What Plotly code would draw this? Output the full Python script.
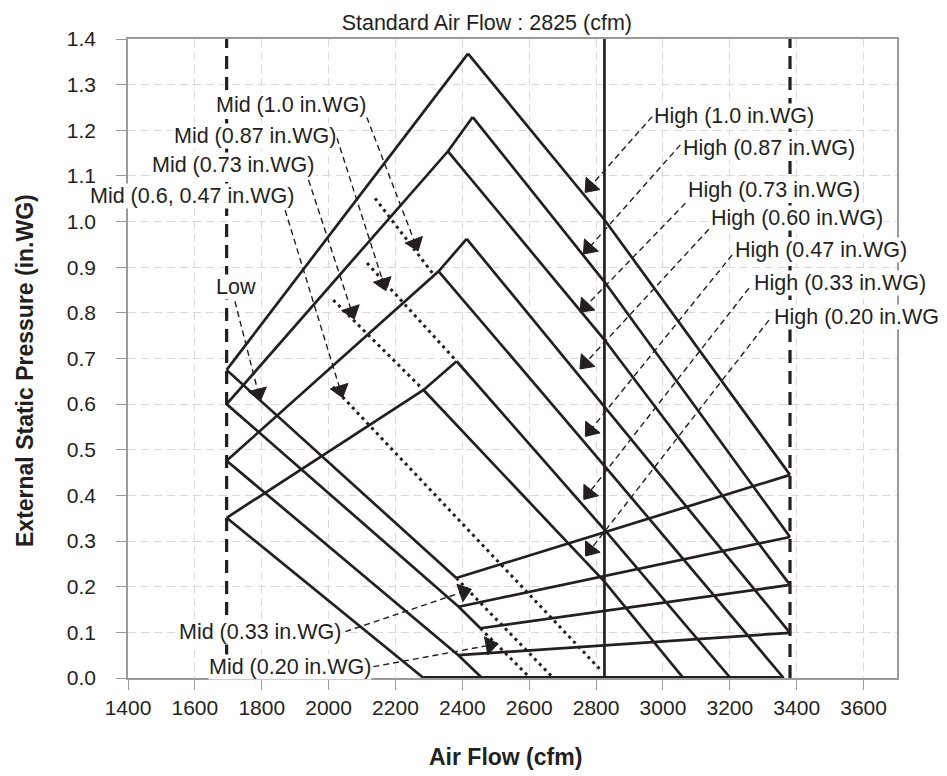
import plotly.graph_objects as go

# ---------------- data (cfm, in.WG) ----------------
low_limit_cfm = 1695
high_limit_cfm = 3380
standard_cfm = 2825
y_top = 1.4

# ascending curves from the low limit up to the peaks (branch points included)
asc_1_x = [1695, 2417];        asc_1_y = [0.675, 1.368]
asc_2_x = [1695, 2357, 2431];  asc_2_y = [0.600, 1.154, 1.229]
asc_3_x = [1695, 2329, 2413];  asc_3_y = [0.476, 0.891, 0.962]
asc_4_x = [1695, 2284, 2383];  asc_4_y = [0.351, 0.631, 0.694]

# High fan curves (peak -> standard flow -> end)
high_100_x = [2417, 2825, 3380]; high_100_y = [1.368, 1.004, 0.445]
high_087_x = [2431, 2825, 3380]; high_087_y = [1.229, 0.868, 0.309]
high_073_x = [2357, 2825, 3380]; high_073_y = [1.154, 0.741, 0.204]
high_060_x = [2413, 2825, 3380]; high_060_y = [0.962, 0.594, 0.099]
high_047_x = [2329, 2825, 3361]; high_047_y = [0.891, 0.465, 0.0]
high_033_x = [2383, 2825, 3202]; high_033_y = [0.694, 0.325, 0.0]
high_020_x = [2284, 2825, 3061]; high_020_y = [0.631, 0.211, 0.0]

# descending curves from the low limit
desc_1_x = [1695, 2382];        desc_1_y = [0.675, 0.219]
desc_2_x = [1695, 2389, 2454];  desc_2_y = [0.600, 0.156, 0.109]
desc_3_x = [1695, 2388, 2459];  desc_3_y = [0.476, 0.050, 0.0]
desc_4_x = [1695, 2284];        desc_4_y = [0.351, 0.0]

# lower system curves
bot_1_x = [2382, 3380]; bot_1_y = [0.219, 0.445]
bot_2_x = [2389, 3380]; bot_2_y = [0.156, 0.309]
bot_3_x = [2454, 3380]; bot_3_y = [0.109, 0.204]
bot_4_x = [2388, 3380]; bot_4_y = [0.050, 0.099]
base_x = [2284, 3361];  base_y = [0.0, 0.0]

# Mid fan curves (dotted)
mid_100_x = [2139, 2316]; mid_100_y = [1.051, 0.882]
mid_087_x = [2115, 2383]; mid_087_y = [0.909, 0.694]
mid_073_x = [2014, 2284]; mid_073_y = [0.828, 0.631]
mid_060_x = [2013, 2813]; mid_060_y = [0.638, 0.018]
mid_033_x = [2382, 2672]; mid_033_y = [0.219, 0.0]
mid_020_x = [2454, 2603]; mid_020_y = [0.109, 0.0]

# labels: text, anchor point (cfm, in.WG), anchor side, leader start, leader tip
label_texts = ["Mid (1.0 in.WG)", "Mid (0.87 in.WG)", "Mid (0.73 in.WG)",
               "Mid (0.6, 0.47 in.WG)", "Low", "Mid (0.33 in.WG)", "Mid (0.20 in.WG)",
               "High (1.0 in.WG)", "High (0.87 in.WG)", "High (0.73 in.WG)",
               "High (0.60 in.WG)", "High (0.47 in.WG)", "High (0.33 in.WG)",
               "High (0.20 in.WG)"]
label_x = [2118, 2025, 1960, 1900, 1786, 2040, 2129,
           2970, 3057, 3072, 3142, 3212, 3269, 3330]
label_y = [1.255, 1.188, 1.124, 1.055, 0.857, 0.1015, 0.0248,
           1.231, 1.161, 1.069, 1.007, 0.938, 0.865, 0.792]
label_side = ["right"] * 7 + ["left"] * 7
leader_x0 = [2114, 2025, 1940, 1870, 1720, 2050, 2134,
             2968, 3052, 3067, 3137, 3207, 3257, 3317]
leader_y0 = [1.229, 1.183, 1.091, 1.025, 0.825, 0.1015, 0.0248,
             1.230, 1.168, 1.040, 0.983, 0.927, 0.854, 0.784]
leader_x1 = [2259, 2164, 2069, 2035, 1790, 2404, 2483,
             2783, 2778, 2768, 2768, 2783, 2778, 2783]
leader_y1 = [0.952, 0.865, 0.803, 0.631, 0.624, 0.189, 0.072,
             1.077, 0.942, 0.814, 0.690, 0.543, 0.405, 0.281]

x_ticks = [1400, 1600, 1800, 2000, 2200, 2400, 2600, 2800, 3000, 3200, 3400, 3600]
y_ticks = [0.0, 0.1, 0.2, 0.3, 0.4, 0.5, 0.6, 0.7, 0.8, 0.9, 1.0, 1.1, 1.2, 1.3, 1.4]

# ---------------- styles ----------------
INK = "#231f20"
AXIS = "#9a9a9a"
FONT = "Liberation Sans, Arial, sans-serif"
TXT = 21.5
solid = dict(color=INK, width=2.7)
dotted = dict(color=INK, width=3, dash="3px,4px")

W, H = 947, 776
L, R, T, B = 120, 58, 31, 106

fig = go.Figure()

def add(x, y, line):
    fig.add_trace(go.Scatter(x=x, y=y, mode="lines", line=line,
                             hoverinfo="skip", showlegend=False))

# limit lines
add([low_limit_cfm, low_limit_cfm], [0, y_top], dict(color=INK, width=3.2, dash="13px,8px"))
add([high_limit_cfm, high_limit_cfm], [0, y_top], dict(color=INK, width=3.2, dash="13px,8px"))
add([standard_cfm, standard_cfm], [0, y_top], dict(color=INK, width=2.7))

for xs, ys in [(asc_1_x, asc_1_y), (asc_2_x, asc_2_y), (asc_3_x, asc_3_y), (asc_4_x, asc_4_y),
               (high_100_x, high_100_y), (high_087_x, high_087_y), (high_073_x, high_073_y),
               (high_060_x, high_060_y), (high_047_x, high_047_y), (high_033_x, high_033_y),
               (high_020_x, high_020_y),
               (desc_1_x, desc_1_y), (desc_2_x, desc_2_y), (desc_3_x, desc_3_y), (desc_4_x, desc_4_y),
               (bot_1_x, bot_1_y), (bot_2_x, bot_2_y), (bot_3_x, bot_3_y), (bot_4_x, bot_4_y)]:
    add(xs, ys, solid)
add(base_x, base_y, dict(color=INK, width=4))

for xs, ys in [(mid_100_x, mid_100_y), (mid_087_x, mid_087_y), (mid_073_x, mid_073_y),
               (mid_060_x, mid_060_y), (mid_033_x, mid_033_y), (mid_020_x, mid_020_y)]:
    add(xs, ys, dotted)

# leaders with arrowheads
for i in range(len(label_texts)):
    fig.add_trace(go.Scatter(
        x=[leader_x0[i], leader_x1[i]], y=[leader_y0[i], leader_y1[i]],
        mode="lines+markers",
        line=dict(color=INK, width=1.4, dash="6px,4px"),
        marker=dict(symbol=["circle", "triangle-up"], size=[0, 16], color=INK,
                    angleref="previous", opacity=1,
                    line=dict(width=[0, 1], color=INK)),
        hoverinfo="skip", showlegend=False))

annotations = []
for i, t in enumerate(label_texts):
    annotations.append(dict(
        x=label_x[i], y=label_y[i], xref="x", yref="y", text=t,
        showarrow=False, xanchor=label_side[i], yanchor="middle",
        bgcolor="white", borderpad=0,
        font=dict(family=FONT, size=TXT, color=INK)))

# axis titles
annotations.append(dict(text="<b>Air Flow (cfm)</b>", xref="paper", yref="paper",
                        x=(497 - L) / (W - L - R), y=0, xanchor="center", yanchor="middle",
                        yshift=-(749 - (H - B)), showarrow=False,
                        font=dict(family=FONT, size=23, color=INK)))
annotations.append(dict(text="<b>External Static Pressure (in.WG)</b>", xref="paper", yref="paper",
                        x=0, y=((H - B) - 363) / (H - T - B), xanchor="center", yanchor="middle",
                        textangle=-90, xshift=-(L - 17), showarrow=False,
                        font=dict(family=FONT, size=23, color=INK)))

grid = dict(showgrid=True, gridcolor="#d9d9d9", gridwidth=1.2, griddash="8px,5px")

fig.update_layout(
    width=W, height=H,
    margin=dict(l=L, r=R, t=T, b=B, autoexpand=False),
    paper_bgcolor="white", plot_bgcolor="white",
    font=dict(family=FONT, size=TXT, color=INK),
    title=dict(text="Standard Air Flow : 2825 (cfm)", x=624 / W, xref="container",
               xanchor="right", y=1 - 14 / H, yref="container", yanchor="middle",
               font=dict(family=FONT, size=TXT, color=INK)),
    annotations=annotations,
    xaxis=dict(range=[1400, 3700], tickvals=x_ticks, ticks="outside", ticklen=10,
               tickcolor=AXIS, linecolor=AXIS, linewidth=1.5, mirror=True,
               zeroline=False, automargin=False, tickfont=dict(size=21, color=INK), **grid),
    yaxis=dict(range=[0, 1.4], tickvals=y_ticks, tickformat=".1f", ticks="outside", ticklen=10,
               tickcolor=AXIS, linecolor=AXIS, linewidth=1.5, mirror=True,
               ticklabelstandoff=16,
               zeroline=False, automargin=False, tickfont=dict(size=21, color=INK), **grid),
)

fig.write_html("out.html")
